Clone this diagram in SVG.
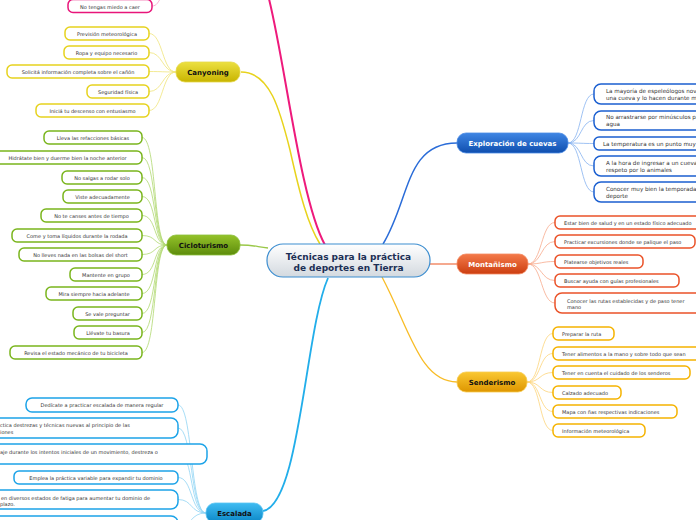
<svg xmlns="http://www.w3.org/2000/svg" width="696" height="520" viewBox="0 0 696 520">
<defs>
<linearGradient id="gC" x1="0" y1="0" x2="0" y2="1"><stop offset="0" stop-color="#ffffff"/><stop offset="1" stop-color="#d3d9df"/></linearGradient>
<linearGradient id="gY" x1="0" y1="0" x2="0" y2="1"><stop offset="0" stop-color="#ece040"/><stop offset="1" stop-color="#c8b400"/></linearGradient>
<linearGradient id="gG" x1="0" y1="0" x2="0" y2="1"><stop offset="0" stop-color="#94c22a"/><stop offset="1" stop-color="#5d8c0c"/></linearGradient>
<linearGradient id="gB" x1="0" y1="0" x2="0" y2="1"><stop offset="0" stop-color="#40bcf2"/><stop offset="1" stop-color="#0a86c6"/></linearGradient>
<linearGradient id="gE" x1="0" y1="0" x2="0" y2="1"><stop offset="0" stop-color="#3f86e4"/><stop offset="1" stop-color="#0f4eae"/></linearGradient>
<linearGradient id="gM" x1="0" y1="0" x2="0" y2="1"><stop offset="0" stop-color="#f47a4a"/><stop offset="1" stop-color="#cc3e10"/></linearGradient>
<linearGradient id="gS" x1="0" y1="0" x2="0" y2="1"><stop offset="0" stop-color="#fac832"/><stop offset="1" stop-color="#de9600"/></linearGradient>
</defs>
<style>
.t{font-family:"DejaVu Sans",Verdana,sans-serif;font-size:5px;fill:#333}
.tx{font-size:5.6px}
.m{text-anchor:middle}
.nb{font-family:"DejaVu Sans",Verdana,sans-serif;font-size:7px;font-weight:bold;text-anchor:middle}
.bx{fill:#fff;stroke-width:1.5}
.cl{fill:none;stroke-width:0.8}
.pk{stroke:#e8157a}.yl{stroke:#e6d21e}.gr{stroke:#7ab51d}.bl{stroke:#1ca3e8}.ex{stroke:#1b5fd0}.mo{stroke:#ea5228}.se{stroke:#f5b300}
</style>
<g id="connectors">
<path d="M325,245 C300,200 285,60 268,-5" fill="none" stroke="#ee1a7c" stroke-width="2"/>
<path d="M241,72 C270,72 280,110 290,150 C300,195 308,225 320,244" fill="none" stroke="#e8d31c" stroke-width="1.5"/>
<path d="M240,245 C255,245 257,247 268,248" fill="none" stroke="#9ac848" stroke-width="1.3"/>
<path d="M263,511 C300,505 305,330 328,278" fill="none" stroke="#22aeea" stroke-width="1.8"/>
<path d="M383,244 C410,200 405,143 457,143" fill="none" stroke="#2a6cd8" stroke-width="1.5"/>
<path d="M430,264 L457,264" fill="none" stroke="#f07a52" stroke-width="1.3"/>
<path d="M382,277 C410,330 420,382 457,382" fill="none" stroke="#f8bc26" stroke-width="1.3"/>
<g stroke="#f8a0c8"><path class="cl" d="M152,6 C157,6 158,2 162,-4"/></g>
<g stroke="#f0e47a">
<path class="cl" d="M149,33.5 C163,33.5 162,72 176,72"/>
<path class="cl" d="M149,52.5 C163,52.5 162,72 176,72"/>
<path class="cl" d="M149,71.5 C163,71.5 162,72 176,72"/>
<path class="cl" d="M149,91.5 C163,91.5 162,72 176,72"/>
<path class="cl" d="M149,110.5 C163,110.5 162,72 176,72"/>
</g>
<g stroke="#b0d870">
<path class="cl" d="M142,137.5 C157,137.5 153,245 167,245"/>
<path class="cl" d="M142,157.5 C157,157.5 153,245 167,245"/>
<path class="cl" d="M142,177.5 C157,177.5 153,245 167,245"/>
<path class="cl" d="M142,196.5 C157,196.5 153,245 167,245"/>
<path class="cl" d="M142,215.5 C157,215.5 153,245 167,245"/>
<path class="cl" d="M142,235.5 C157,235.5 153,245 167,245"/>
<path class="cl" d="M142,254.5 C157,254.5 153,245 167,245"/>
<path class="cl" d="M142,274.5 C157,274.5 153,245 167,245"/>
<path class="cl" d="M142,293.5 C157,293.5 153,245 167,245"/>
<path class="cl" d="M142,313.5 C157,313.5 153,245 167,245"/>
<path class="cl" d="M142,332.5 C157,332.5 153,245 167,245"/>
<path class="cl" d="M142,352.5 C157,352.5 153,245 167,245"/>
</g>
<g stroke="#90d4f4">
<path class="cl" d="M178,405 C193,405 190,513 206,513"/>
<path class="cl" d="M178,428 C193,428 190,513 206,513"/>
<path class="cl" d="M180,454 C193,454 190,513 206,513"/>
<path class="cl" d="M178,477.5 C193,477.5 190,513 206,513"/>
<path class="cl" d="M178,499.5 C193,499.5 190,513 206,513"/>
<path class="cl" d="M178,526 C193,526 190,513 206,513"/>
</g>
<g stroke="#86b2f0">
<path class="cl" d="M568,143 C582,143 580,94 594,94"/>
<path class="cl" d="M568,143 C582,143 580,120.5 594,120.5"/>
<path class="cl" d="M568,143 C582,143 580,143.5 594,143.5"/>
<path class="cl" d="M568,143 C582,143 580,166 594,166"/>
<path class="cl" d="M568,143 C582,143 580,192 594,192"/>
</g>
<g stroke="#f8aa8c">
<path class="cl" d="M528,264 C542,264 541,222.5 555,222.5"/>
<path class="cl" d="M528,264 C542,264 541,241.5 555,241.5"/>
<path class="cl" d="M528,264 C542,264 541,261.5 555,261.5"/>
<path class="cl" d="M528,264 C542,264 541,280.5 555,280.5"/>
<path class="cl" d="M528,264 C542,264 541,303 555,303"/>
</g>
<g stroke="#fcd47a">
<path class="cl" d="M527,382 C541,382 539,333.5 553,333.5"/>
<path class="cl" d="M527,382 C541,382 539,353.5 553,353.5"/>
<path class="cl" d="M527,382 C541,382 539,372.5 553,372.5"/>
<path class="cl" d="M527,382 C541,382 539,392.5 553,392.5"/>
<path class="cl" d="M527,382 C541,382 539,411.5 553,411.5"/>
<path class="cl" d="M527,382 C541,382 539,430.5 553,430.5"/>
</g>
</g>

<g id="central">
<rect x="267" y="244" width="163" height="33" rx="16" fill="url(#gC)" stroke="#3d8ed0" stroke-width="1.2"/>
<text x="348.5" y="259.5" font-family="DejaVu Sans,Verdana,sans-serif" font-size="9" font-weight="bold" fill="#1c2f55" text-anchor="middle">Técnicas para la práctica</text>
<text x="348.5" y="270.5" font-family="DejaVu Sans,Verdana,sans-serif" font-size="9" font-weight="bold" fill="#1c2f55" text-anchor="middle">de deportes en Tierra</text>
</g>

<g id="pink-item"><rect class="bx pk" x="68" y="-0.5" width="84" height="13" rx="5"/><text class="t m" x="110" y="8.5">No tengas miedo a caer</text></g>

<g id="canyoning"><rect x="176" y="62" width="64" height="20" rx="9" fill="url(#gY)" stroke="#e6d84a" stroke-width="0.8"/><text class="nb" x="208" y="74.5" fill="#111">Canyoning</text></g>
<g id="can-1"><rect class="bx yl" x="65" y="27" width="84" height="13" rx="5"/><text class="t m" x="107" y="35.5">Previsión meteorológica</text></g>
<g id="can-2"><rect class="bx yl" x="64" y="46" width="85" height="13" rx="5"/><text class="t m" x="106.5" y="54.5">Ropa y equipo necesario</text></g>
<g id="can-3"><rect class="bx yl" x="7" y="65" width="142" height="13" rx="5"/><text class="t m" x="78" y="73.5">Solicitá información completa sobre el cañón</text></g>
<g id="can-4"><rect class="bx yl" x="87" y="85" width="62" height="13" rx="5"/><text class="t m" x="118" y="93.5">Seguridad física</text></g>
<g id="can-5"><rect class="bx yl" x="36" y="104" width="113" height="13" rx="5"/><text class="t m" x="92.5" y="112.5">Iniciá tu descenso con entusiasmo</text></g>

<g id="cicloturismo"><rect x="167" y="235" width="73" height="20" rx="9" fill="url(#gG)" stroke="#8cbf3a" stroke-width="0.8"/><text class="nb" x="203.5" y="247.5" fill="#111">Cicloturismo</text></g>
<g id="cic-1"><rect class="bx gr" x="44" y="131" width="98" height="13" rx="5"/><text class="t m" x="93" y="139.5">Lleva las refacciones básicas</text></g>
<g id="cic-2"><rect class="bx gr" x="-4" y="151" width="146" height="13" rx="5"/><text class="t m" x="67.5" y="159.5">Hidrátate bien y duerme bien la noche anterior</text></g>
<g id="cic-3"><rect class="bx gr" x="62" y="171" width="80" height="13" rx="5"/><text class="t m" x="102" y="179.5">No salgas a rodar solo</text></g>
<g id="cic-4"><rect class="bx gr" x="63" y="190" width="79" height="13" rx="5"/><text class="t m" x="102.5" y="198.5">Viste adecuadamente</text></g>
<g id="cic-5"><rect class="bx gr" x="41" y="209" width="101" height="13" rx="5"/><text class="t m" x="91.5" y="217.5">No te canses antes de tiempo</text></g>
<g id="cic-6"><rect class="bx gr" x="12" y="229" width="130" height="13" rx="5"/><text class="t m" x="77" y="237.5">Come y toma líquidos durante la rodada</text></g>
<g id="cic-7"><rect class="bx gr" x="19" y="248" width="123" height="13" rx="5"/><text class="t m" x="80.5" y="256.5">No lleves nada en las bolsas del short</text></g>
<g id="cic-8"><rect class="bx gr" x="70" y="268" width="72" height="13" rx="5"/><text class="t m" x="106" y="276.5">Mantente en grupo</text></g>
<g id="cic-9"><rect class="bx gr" x="46" y="287" width="96" height="13" rx="5"/><text class="t m" x="94" y="295.5">Mira siempre hacia adelante</text></g>
<g id="cic-10"><rect class="bx gr" x="73" y="307" width="69" height="13" rx="5"/><text class="t m" x="107.5" y="315.5">Se vale preguntar</text></g>
<g id="cic-11"><rect class="bx gr" x="74" y="326" width="68" height="13" rx="5"/><text class="t m" x="108" y="334.5">Llévate tu basura</text></g>
<g id="cic-12"><rect class="bx gr" x="10" y="346" width="132" height="13" rx="5"/><text class="t m" x="76" y="354.5">Revisa el estado mecánico de tu bicicleta</text></g>

<g id="escalada"><rect x="206" y="503" width="57" height="20" rx="9" fill="url(#gB)" stroke="#5ac4f2" stroke-width="0.8"/><text class="nb" x="234.5" y="515.5" fill="#111">Escalada</text></g>
<g id="esc-1"><rect class="bx bl" x="26" y="398" width="152" height="14" rx="6"/><text class="t m" x="102" y="407">Dedícate a practicar escalada de manera regular</text></g>
<g id="esc-2"><rect class="bx bl" x="-40" y="418" width="218" height="20" rx="7"/><text class="t" x="0" y="427">ctica destrezas y técnicas nuevas al principio de las</text><text class="t" x="0" y="434">iones</text></g>
<g id="esc-3"><rect class="bx bl" x="-40" y="444" width="247" height="20" rx="7"/><text class="t" x="0" y="453.5">aje durante los intentos iniciales de un movimiento, destreza o</text></g>
<g id="esc-4"><rect class="bx bl" x="14" y="471" width="164" height="13" rx="5"/><text class="t m" x="96" y="479.5">Emplea la práctica variable para expandir tu dominio</text></g>
<g id="esc-5"><rect class="bx bl" x="-40" y="490" width="218" height="19" rx="7"/><text class="t" x="1" y="499.5">en diversos estados de fatiga para aumentar tu dominio de</text><text class="t" x="0" y="506">plazo.</text></g>
<g id="esc-6"><rect class="bx bl" x="-40" y="516" width="218" height="20" rx="7"/></g>

<g id="exploracion"><rect x="457" y="133" width="111" height="20" rx="9" fill="url(#gE)" stroke="#4a8ae4" stroke-width="0.8"/><text class="nb" x="512.5" y="145.5" fill="#fff">Exploración de cuevas</text></g>
<g id="exp-1"><rect class="bx ex" x="594" y="84" width="200" height="20" rx="7"/><text class="t tx" x="606" y="93.3">La mayoría de espeleólogos nova</text><text class="t tx" x="606" y="100.3">una cueva y lo hacen durante m</text></g>
<g id="exp-2"><rect class="bx ex" x="594" y="111" width="200" height="19" rx="7"/><text class="t tx" x="606" y="119.3">No arrastrarse por minúsculos pa</text><text class="t tx" x="606" y="126">agua</text></g>
<g id="exp-3"><rect class="bx ex" x="594" y="137" width="200" height="13" rx="5"/><text class="t tx" x="603" y="145.7">La temperatura es un punto muy</text></g>
<g id="exp-4"><rect class="bx ex" x="594" y="156" width="200" height="20" rx="7"/><text class="t tx" x="606" y="165">A la hora de ingresar a un cueva</text><text class="t tx" x="606" y="172">respeto por lo animales</text></g>
<g id="exp-5"><rect class="bx ex" x="594" y="182" width="200" height="20" rx="7"/><text class="t tx" x="606" y="191">Conocer muy bien la temporada</text><text class="t tx" x="606" y="197.7">deporte</text></g>

<g id="montanismo"><rect x="457" y="254" width="71" height="20" rx="9" fill="url(#gM)" stroke="#f48a62" stroke-width="0.8"/><text class="nb" x="492.5" y="266.5" fill="#fff">Montañismo</text></g>
<g id="mon-1"><rect class="bx mo" x="555" y="216" width="160" height="13" rx="5"/><text class="t" x="564" y="224.5">Estar bien de salud y en un estado físico adecuado</text></g>
<g id="mon-2"><rect class="bx mo" x="555" y="235" width="140" height="13" rx="5"/><text class="t" x="564" y="243.5">Practicar excursiones donde se palique el paso</text></g>
<g id="mon-3"><rect class="bx mo" x="555" y="255" width="88" height="13" rx="5"/><text class="t" x="564" y="263.5">Platearse objetivos reales</text></g>
<g id="mon-4"><rect class="bx mo" x="555" y="274" width="124" height="13" rx="5"/><text class="t" x="564" y="282.5">Buscar ayuda con guías  profesionales</text></g>
<g id="mon-5"><rect class="bx mo" x="555" y="293" width="170" height="20" rx="7"/><text class="t" x="567" y="303.2">Conocer las rutas establecidas y de paso tener</text><text class="t" x="567" y="309.3">mano</text></g>

<g id="senderismo"><rect x="457" y="372" width="70" height="20" rx="9" fill="url(#gS)" stroke="#f8cc50" stroke-width="0.8"/><text class="nb" x="492" y="384.5" fill="#111">Senderismo</text></g>
<g id="sen-1"><rect class="bx se" x="553" y="327" width="61" height="13" rx="5"/><text class="t" x="562" y="335.5">Preparar la ruta</text></g>
<g id="sen-2"><rect class="bx se" x="553" y="347" width="170" height="13" rx="5"/><text class="t" x="562" y="355.5">Tener alimentos a la mano y sobre todo que sean</text></g>
<g id="sen-3"><rect class="bx se" x="553" y="366" width="137" height="13" rx="5"/><text class="t" x="562" y="374.5">Tener en cuenta el cuidado de los senderos</text></g>
<g id="sen-4"><rect class="bx se" x="553" y="386" width="68" height="13" rx="5"/><text class="t" x="562" y="394.5">Calzado adecuado</text></g>
<g id="sen-5"><rect class="bx se" x="553" y="405" width="124" height="13" rx="5"/><text class="t" x="562" y="413.5">Mapa con ñas respectivas indicaciones</text></g>
<g id="sen-6"><rect class="bx se" x="553" y="424" width="92" height="13" rx="5"/><text class="t" x="562" y="432.5">Información meteorológica</text></g>
</svg>
